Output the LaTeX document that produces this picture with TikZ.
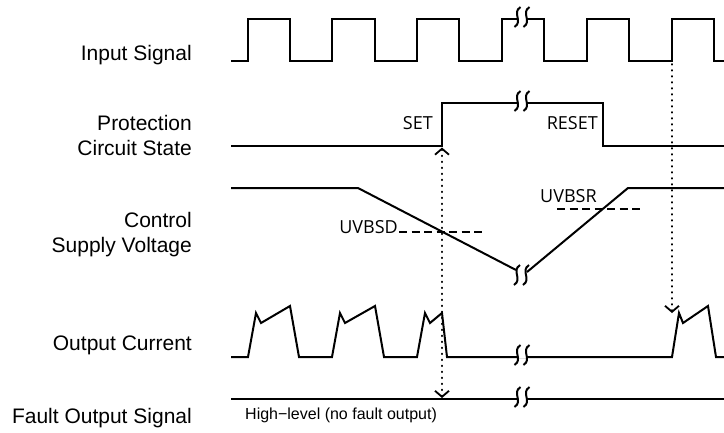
\documentclass[tikz,border=0pt]{standalone}
\usepackage{fontspec}
\setmainfont{Liberation Sans}
\newfontfamily\evtfont{Open Sans}
\usetikzlibrary{arrows.meta}
\tikzset{
  barb/.tip={Straight Barb[length=6pt,width=14pt,line width=1.8pt]},
  sig/.style={line width=2pt, line join=miter},
  thr/.style={line width=2pt, dash pattern=on 8pt off 4.5pt},
  dots/.style={line width=2pt, line cap=round, dash pattern=on 0.6pt off 5.4pt},
  lab/.style={anchor=east, align=right, font=\fontsize{21}{25}\selectfont, inner sep=0pt},
  evt/.style={font=\evtfont\fontsize{18}{20}\selectfont, inner sep=0pt},
  note/.style={anchor=west, font=\fontsize{16}{18}\selectfont, inner sep=0pt},
  brkmarks/.pic={
    \foreach \d in {-4.5,4.5}
      \draw[line width=2pt] (\d+3,-10) .. controls (\d-6,-4) and (\d+6,4) .. (\d-3,10);
  },
  brk/.pic={
    \fill[white] (-4.5,-3) rectangle (4.5,3);
    \pic {brkmarks};
  }
}
\begin{document}
\begin{tikzpicture}[x=1pt,y=-1pt]
\useasboundingbox (0,0) rectangle (724,432);

% labels
\node[lab] (lin) at (192,55) {Input Signal};
\node[lab] (lpc) at (192,135.5) {Protection\\Circuit State};
\node[lab] (lcv) at (192,235) {Control\\Supply Voltage};
\node[lab] (loc) at (192,345) {Output Current};
\node[lab] (lfo) at (192,418) {Fault Output Signal};

% input signal
\draw[sig] (231,61) -- (248,61) -- (248,19) -- (290,19) -- (290,61) -- (332,61) -- (332,19) -- (375,19) -- (375,61)
  -- (417,61) -- (417,19) -- (459,19) -- (459,61) -- (502,61) -- (502,19) -- (544,19) -- (544,61)
  -- (587,61) -- (587,19) -- (629,19) -- (629,61) -- (672,61) -- (672,19) -- (714,19) -- (714,61) -- (724,61);
\pic at (522,17) {brk};

% protection circuit state
\draw[sig] (231,146) -- (442,146) -- (442,103) -- (603,103) -- (603,146) -- (724,146);
\pic at (522,101) {brk};
\node[evt, anchor=east] (set) at (433,123.5) {SET};
\node[evt, anchor=east] (reset) at (598,123.5) {RESET};

% control supply voltage
\draw[sig] (231,188) -- (358,188) -- (516,270);
\draw[sig] (527,272) -- (628,188) -- (724,188);
\pic at (521.5,275) {brkmarks};
\draw[thr] (399,232) -- (485,232);
\draw[thr] (557,209) -- (643,209);
\node[evt, anchor=east] (uvbsd) at (398,227) {UVBSD};
\node[evt, anchor=west] (uvbsr) at (540,196) {UVBSR};

% output current
\draw[sig] (231,357) -- (248,357) -- (256,313) -- (261,323) -- (290,306) -- (299,357)
  -- (332,357) -- (340,313) -- (345,323) -- (375,306) -- (384,357)
  -- (417,357) -- (425,313) -- (430,323) -- (442,313) -- (447,357)
  -- (672,357) -- (679,313) -- (683,323) -- (708,306) -- (716,357) -- (724,357);
\pic at (522,355) {brk};

% fault output signal
\draw[sig] (231,399) -- (724,399);
\pic at (522,397) {brk};
\node[note] (hl) at (245,415) {High−level (no fault output)};

% dotted arrows
\coordinate (setpt) at (442,147.5);
\coordinate (fltpt) at (442,398);
\coordinate (inpt) at (672,64);
\coordinate (ocpt) at (672,313);
\draw[dots, barb-barb] (setpt) -- (fltpt);
\draw[dots, -barb] (inpt) -- (ocpt);
\end{tikzpicture}
\end{document}
